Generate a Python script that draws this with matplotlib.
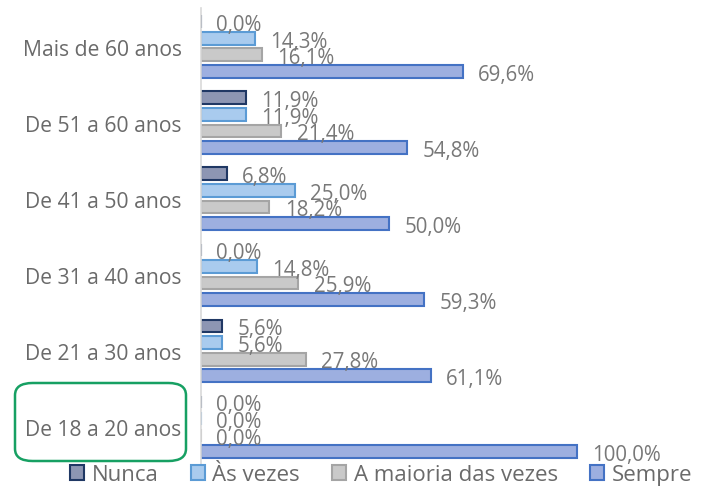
import matplotlib.pyplot as plt
import numpy as np
from matplotlib.patches import FancyBboxPatch, Patch

plt.rcParams['font.family'] = ['Open Sans', 'DejaVu Sans']

# data, bottom to top as drawn
categories = ['De 18 a 20 anos', 'De 21 a 30 anos', 'De 31 a 40 anos',
              'De 41 a 50 anos', 'De 51 a 60 anos', 'Mais de 60 anos']
nunca = [0.0, 5.6, 0.0, 6.8, 11.9, 0.0]
as_vezes = [0.0, 5.6, 14.8, 25.0, 11.9, 14.3]
maioria = [0.0, 27.8, 25.9, 18.2, 21.4, 16.1]
sempre = [100.0, 61.1, 59.3, 50.0, 54.8, 69.6]
series_names = ['Nunca', 'Às vezes', 'A maioria das vezes', 'Sempre']

fills = ['#8d96b3', '#a9cbee', '#c9c9c9', '#9dafe0']
edges = ['#203864', '#5b9bd5', '#a5a5a5', '#4472c4']
text_grey = '#787878'

fig = plt.figure(figsize=(7.06, 4.89), dpi=100)
ax = fig.add_axes([201 / 706, 0.047, 480 / 706, 0.9336])

y = np.arange(len(categories))
pitch = 0.218
height = 0.168
all_series = [nunca, as_vezes, maioria, sempre]
for i, vals in enumerate(all_series):
    offset = (1.5 - i) * pitch
    bars = ax.barh(y + offset, vals, height=height, color=fills[i],
                   edgecolor=edges[i], linewidth=1.5)
    for b, v in zip(bars, vals):
        ax.annotate(f"{v:.1f}".replace('.', ',') + '%',
                    (b.get_width(), b.get_y() + b.get_height() / 2),
                    xytext=(11, -2), textcoords='offset points',
                    ha='left', va='center', fontsize=14.8, color=text_grey)

ax.set_xlim(0, 480 / 376 * 100)
ax.set_ylim(-0.5, len(categories) - 0.5)
ax.set_yticks(y)
ax.set_yticklabels(categories, fontsize=15.2, color='#6a6a6a')
ax.tick_params(axis='y', length=0, pad=14)
ax.set_xticks([])
for s in ['top', 'right', 'bottom']:
    ax.spines[s].set_visible(False)
ax.spines['left'].set_color('#d9d9d9')
ax.spines['left'].set_linewidth(1.2)

handles = [Patch(facecolor=fills[i], edgecolor=edges[i], linewidth=1.5)
           for i in range(4)]
fig.legend(handles, series_names, loc='center', bbox_to_anchor=(0.54, 0.027),
           ncol=4, frameon=False, fontsize=16, handlelength=0.62,
           handleheight=0.62, handletextpad=0.35, columnspacing=1.45,
           borderpad=0, labelcolor='#6a6a6a')

# green highlight around the youngest group
box = FancyBboxPatch((15 / 706, 1 - 462 / 489), 171 / 706, 78 / 489,
                     boxstyle='round,pad=0,rounding_size=0.025',
                     transform=fig.transFigure, fill=False,
                     edgecolor='#17a063', linewidth=1.8)
fig.patches.append(box)

fig.savefig('out.png', dpi=100)
